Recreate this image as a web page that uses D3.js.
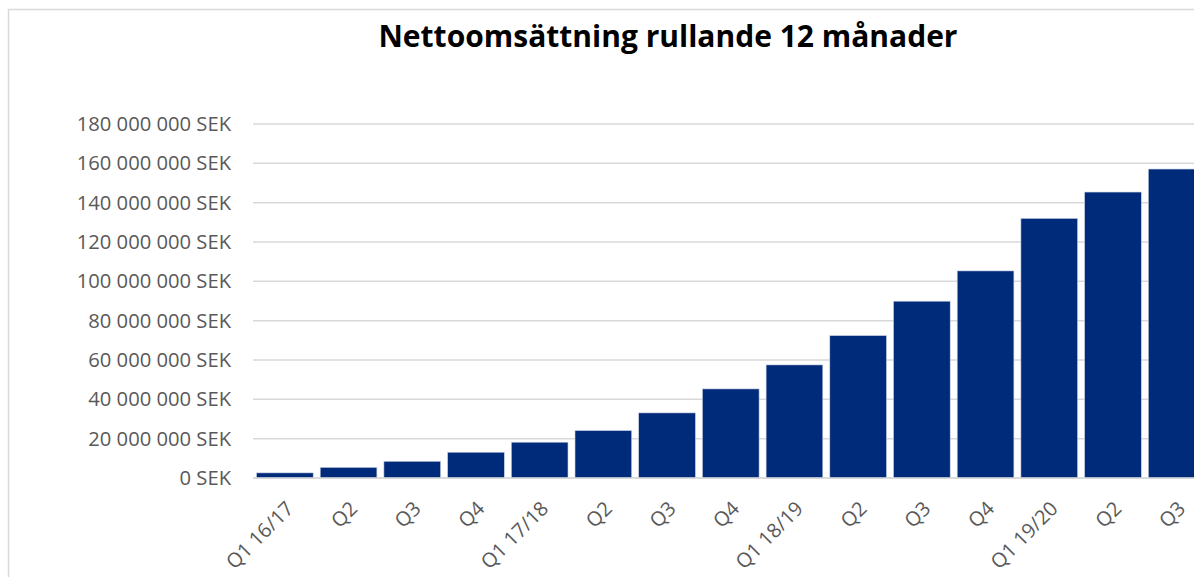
<!DOCTYPE html>
<html>
<head>
<meta charset="utf-8">
<script src="https://cdn.jsdelivr.net/npm/d3@7/dist/d3.min.js"></script>
<style>
  body { margin: 0; background: #fff; overflow: hidden; }
  svg { display: block; font-family: "Open Sans", "Noto Sans", sans-serif; }
  .grid line { stroke: #d9d9d9; stroke-width: 1.5; }
  .ylab text, .xlab text { fill: #595959; }
</style>
</head>
<body>
<div id="chart"></div>
<script>
var quarters = ["Q1 16/17", "Q2", "Q3", "Q4",
                "Q1 17/18", "Q2", "Q3", "Q4",
                "Q1 18/19", "Q2", "Q3", "Q4",
                "Q1 19/20", "Q2", "Q3"];
var revenue = [2600000, 5400000, 8500000, 13100000,
               18200000, 24100000, 33100000, 45300000,
               57500000, 72400000, 89900000, 105300000,
               132000000, 145400000, 157100000];
var y_ticks = [0, 20000000, 40000000, 60000000, 80000000,
               100000000, 120000000, 140000000, 160000000, 180000000];
var title_text = "Nettoomsättning rullande 12 månader";

var width = 1194, height = 577;

var svg = d3.select("#chart").append("svg")
    .attr("width", width)
    .attr("height", height);

// chart frame (runs off the right / bottom edge like the screenshot)
svg.append("rect")
    .attr("x", 8.5).attr("y", 9.5)
    .attr("width", 1400).attr("height", 700)
    .attr("fill", "#fff")
    .attr("stroke", "#d9d9d9")
    .attr("stroke-width", 1.5);

svg.append("text")
    .attr("x", 668).attr("y", 47)
    .attr("text-anchor", "middle")
    .attr("font-size", 30)
    .attr("font-weight", "bold")
    .attr("fill", "#000")
    .text(title_text);

var x = d3.scaleBand()
    .domain(d3.range(quarters.length))
    .range([253, 253 + 15 * 63.7])
    .paddingInner(0.11)
    .paddingOuter(0.055);

var y = d3.scaleLinear()
    .domain([0, 180000000])
    .range([478, 124]);

var sek = d3.formatLocale({decimal: ",", thousands: "\u00a0", grouping: [3], currency: ["", " SEK"]});
var fmt = function(v) { return sek.format(",")(v) + " SEK"; };

// gridlines
svg.append("g")
    .classed("grid", true)
    .selectAll("line")
    .data(y_ticks)
    .enter().append("line")
        .attr("x1", 253).attr("x2", width)
        .attr("y1", function(d) { return y(d); })
        .attr("y2", function(d) { return y(d); });

// y labels
svg.append("g")
    .classed("ylab", true)
    .selectAll("text")
    .data(y_ticks)
    .enter().append("text")
        .attr("x", 231)
        .attr("y", function(d) { return y(d); })
        .attr("dy", "0.35em")
        .attr("text-anchor", "end")
        .attr("font-size", 20.2)
        .text(fmt);

// bars
svg.append("g")
    .selectAll("rect")
    .data(revenue)
    .enter().append("rect")
        .attr("x", function(d, i) { return x(i); })
        .attr("y", function(d) { return y(d); })
        .attr("width", x.bandwidth())
        .attr("height", function(d) { return y(0) - y(d); })
        .attr("fill", "#002a7a")
        .attr("stroke", "#c9d1e3")
        .attr("stroke-width", 0.6);

// baseline
svg.append("line")
    .attr("x1", 253).attr("x2", width)
    .attr("y1", y(0)).attr("y2", y(0))
    .attr("stroke", "#d9d9d9")
    .attr("stroke-width", 1.5);

// x labels, rotated
svg.append("g")
    .classed("xlab", true)
    .selectAll("text")
    .data(quarters)
    .enter().append("text")
        .attr("transform", function(d, i) {
            var cx = x(i) + x.bandwidth() / 2;
            return "translate(" + (cx + 5) + ",505) rotate(-45)";
        })
        .attr("text-anchor", "end")
        .attr("dy", "0.35em")
        .attr("font-size", 20)
        .text(function(d) { return d; });
</script>
</body>
</html>
